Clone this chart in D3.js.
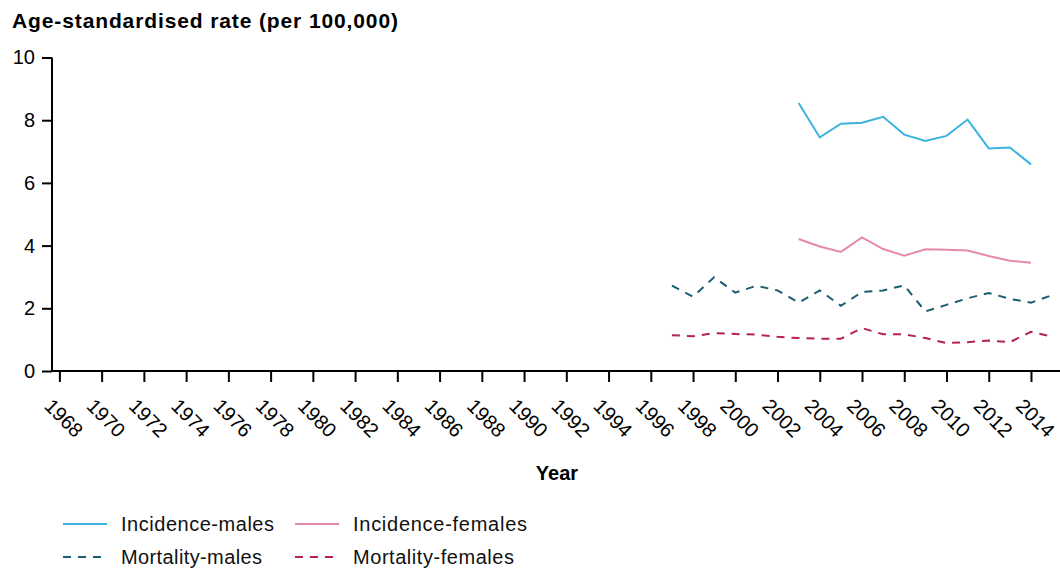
<!DOCTYPE html>
<html>
<head>
<meta charset="utf-8">
<script src="https://cdn.jsdelivr.net/npm/d3@7"></script>
<style>
  html, body { margin: 0; padding: 0; background: #fff; }
  svg { display: block; font-family: Arial, "Liberation Sans", sans-serif; }
</style>
</head>
<body>
<svg id="chart" width="1060" height="569"></svg>
<script>
// ---- data ----
const yearTicks = d3.range(1968, 2015, 2);
const yTicks = [0, 2, 4, 6, 8, 10];

const incYears = d3.range(2003, 2015);
const incidenceMales   = [8.55, 7.45, 7.89, 7.92, 8.11, 7.54, 7.34, 7.50, 8.02, 7.10, 7.13, 6.59];
const incidenceFemales = [4.21, 3.97, 3.80, 4.26, 3.89, 3.68, 3.88, 3.87, 3.84, 3.67, 3.52, 3.45];

const mortYears = d3.range(1997, 2016);
const mortalityMales   = [2.72, 2.37, 2.99, 2.50, 2.72, 2.57, 2.18, 2.57, 2.08, 2.52, 2.57, 2.73, 1.90, 2.11, 2.32, 2.49, 2.30, 2.18, 2.42];
const mortalityFemales = [1.14, 1.11, 1.21, 1.18, 1.16, 1.09, 1.05, 1.03, 1.03, 1.37, 1.17, 1.17, 1.05, 0.89, 0.92, 0.97, 0.92, 1.25, 1.10];

const seriesNames = ["Incidence-males", "Incidence-females", "Mortality-males", "Mortality-females"];

// ---- styles ----
const series = [
  { name: seriesNames[0], years: incYears,  values: incidenceMales,   color: "#3bb3de", dash: null,  tl: 153 },
  { name: seriesNames[1], years: incYears,  values: incidenceFemales, color: "#e68aa8", dash: null,  tl: 174 },
  { name: seriesNames[2], years: mortYears, values: mortalityMales,   color: "#1b5d72", dash: "8,7", tl: 141 },
  { name: seriesNames[3], years: mortYears, values: mortalityFemales, color: "#b3205b", dash: "8,7", tl: 161 }
];

const svg = d3.select("#chart");
const x = d3.scaleLinear().domain([1967.65, 2015.35]).range([52, 1059.5]);
const y = d3.scaleLinear().domain([0, 10]).range([371, 57.5]);

// title
svg.append("text")
  .attr("x", 12).attr("y", 28)
  .attr("font-size", 21).attr("font-weight", "bold").attr("fill", "#000")
  .attr("textLength", 386).attr("lengthAdjust", "spacing")
  .text("Age-standardised rate (per 100,000)");

// y axis
const yAxis = svg.append("g").attr("transform", `translate(${x.range()[0]},0)`)
  .call(d3.axisLeft(y).tickValues(yTicks).tickSize(10).tickPadding(7));
yAxis.select(".domain").attr("stroke", "#000").attr("stroke-width", 2)
  .attr("d", `M0,${y(10)}V${y(0)}`);
yAxis.selectAll(".tick line").attr("stroke", "#000").attr("stroke-width", 2);
yAxis.selectAll(".tick text").attr("font-size", 20).attr("fill", "#000")
  .attr("font-family", "Arial, 'Liberation Sans', sans-serif");

// x axis
const xAxis = svg.append("g").attr("transform", `translate(0,${y(0)})`)
  .call(d3.axisBottom(x).tickValues(yearTicks).tickFormat(d3.format("d")).tickSize(11));
xAxis.select(".domain").attr("stroke", "#000").attr("stroke-width", 2)
  .attr("d", `M${x.range()[0] - 1},0H1060`);
xAxis.selectAll(".tick line").attr("stroke", "#000").attr("stroke-width", 2);
xAxis.selectAll(".tick text")
  .attr("font-size", 20).attr("fill", "#000")
  .attr("font-family", "Arial, 'Liberation Sans', sans-serif")
  .attr("text-anchor", "middle").attr("dy", null)
  .attr("dominant-baseline", "central")
  .attr("y", 0)
  .attr("transform", "translate(4,47) rotate(45)");

// x label
svg.append("text")
  .attr("x", 557).attr("y", 480).attr("text-anchor", "middle")
  .attr("font-size", 20).attr("font-weight", "bold").attr("fill", "#000")
  .text("Year");

// lines
const line = d3.line().x(d => x(d[0])).y(d => y(d[1]));
series.forEach(s => {
  svg.append("path")
    .datum(s.years.map((yr, i) => [yr, s.values[i]]))
    .attr("fill", "none")
    .attr("stroke", s.color)
    .attr("stroke-width", 2)
    .attr("stroke-dasharray", s.dash)
    .attr("d", line);
});

// legend
const legPos = [[63, 524], [295, 524], [63, 557], [295, 557]];
series.forEach((s, i) => {
  const [lx, ly] = legPos[i];
  const g = svg.append("g").attr("transform", `translate(${lx},${ly})`);
  g.append("line").attr("x1", 0).attr("x2", 44).attr("y1", 0).attr("y2", 0)
    .attr("stroke", s.color).attr("stroke-width", 2)
    .attr("stroke-dasharray", s.dash);
  g.append("text").attr("x", 58).attr("y", 7).attr("font-size", 20).attr("fill", "#111")
    .attr("textLength", s.tl).attr("lengthAdjust", "spacing")
    .text(s.name);
});
</script>
</body>
</html>
